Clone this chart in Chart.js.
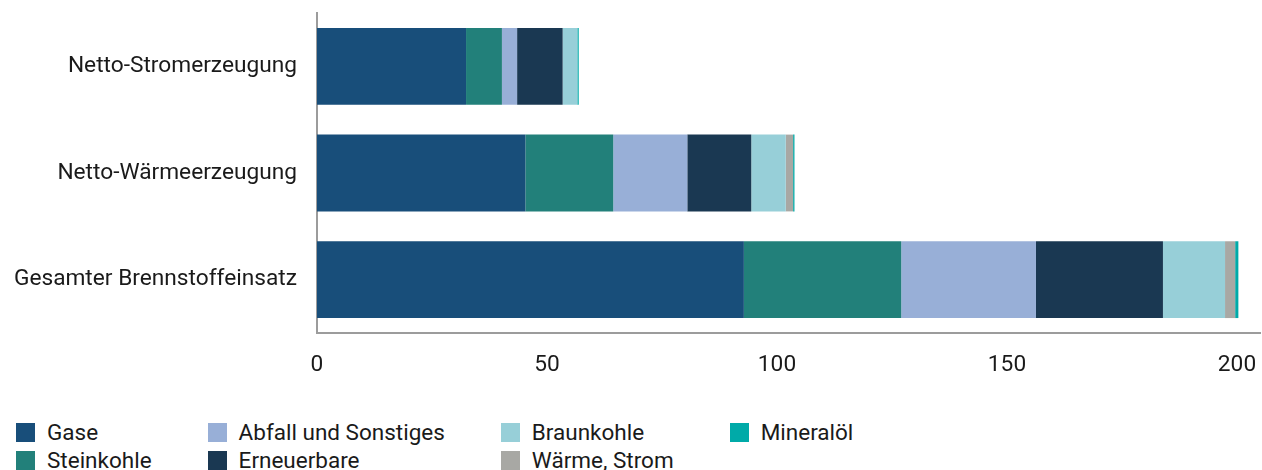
<!DOCTYPE html>
<html lang="de">
<head>
<meta charset="utf-8">
<script src="https://cdn.jsdelivr.net/npm/chart.js@4.4.1/dist/chart.umd.min.js"></script>
<style>
    html, body { margin: 0; padding: 0; background: #fff; }
    body { width: 1262px; height: 470px; overflow: hidden; position: relative; font-family: Roboto, sans-serif; }
    #chartBox { position: absolute; left: 0; top: 0; width: 1262px; height: 390px; }
    #legend {
        position: absolute; left: 16px; top: 418px;
        display: grid; grid-template-rows: 28px 28px; grid-auto-flow: column;
        column-gap: 56px; font-size: 22.5px; color: #1a1a1a;
    }
    .item { display: flex; align-items: center; white-space: nowrap; line-height: 28px; }
    .box { width: 19px; height: 19px; margin-right: 12px; flex: none; }
</style>
</head>
<body>
<div id="chartBox"><canvas id="myChart"></canvas></div>
<div id="legend"></div>
<script>
// Kategorien und Werte (Mrd. kWh)
const categories = ['Netto-Stromerzeugung', 'Netto-Wärmeerzeugung', 'Gesamter Brennstoffeinsatz'];
const seriesNames = ['Gase', 'Steinkohle', 'Abfall und Sonstiges', 'Erneuerbare', 'Braunkohle', 'Wärme, Strom', 'Mineralöl'];
const seriesColors = ['#184e7a', '#22807a', '#98afd7', '#1a3852', '#97cfd8', '#a8a8a4', '#00aaa8'];

const gase = [32.4, 45.3, 92.8];
const steinkohle = [7.8, 19.1, 34.2];
const abfall = [3.3, 16.1, 29.3];
const erneuerbare = [9.9, 13.9, 27.6];
const braunkohle = [3.2, 7.5, 13.5];
const waermeStrom = [0, 1.6, 2.2];
const mineraloel = [0.3, 0.3, 0.7];

const xTicks = [0, 50, 100, 150, 200];

const seriesValues = [gase, steinkohle, abfall, erneuerbare, braunkohle, waermeStrom, mineraloel];

const datasets = seriesNames.map((name, i) => ({
    label: name,
    data: seriesValues[i],
    backgroundColor: seriesColors[i],
    borderWidth: 0
}));

const tickFont = { family: 'Roboto', size: 22.7 };

const config = {
    type: 'bar',
    data: { labels: categories, datasets: datasets },
    options: {
        indexAxis: 'y',
        responsive: true,
        maintainAspectRatio: false,
        animation: false,
        layout: { padding: { top: 13, right: 2, left: 0, bottom: 0 } },
        plugins: {
            legend: { display: false },
            tooltip: { enabled: false }
        },
        scales: {
            x: {
                stacked: true,
                min: 0,
                max: 205,
                grid: { display: false, drawTicks: false },
                border: { display: true, color: '#9c9c9c', width: 2 },
                ticks: {
                    stepSize: 50,
                    padding: 19,
                    color: '#1a1a1a',
                    font: tickFont
                },
                afterBuildTicks: scale => {
                    scale.ticks = xTicks.map(v => ({ value: v }));
                },
                afterFit: scale => {
                    scale.height = 57;
                    scale.paddingLeft = 0;
                    scale.paddingRight = 0;
                }
            },
            y: {
                stacked: true,
                grid: { display: false, drawTicks: false },
                border: { display: true, color: '#9c9c9c', width: 2 },
                ticks: {
                    padding: 20,
                    color: '#1a1a1a',
                    font: tickFont
                },
                afterFit: scale => {
                    scale.width = 317;
                    scale.paddingTop = 0;
                    scale.paddingBottom = 0;
                }
            }
        }
    }
};

new Chart(document.getElementById('myChart'), config);

// Legende spaltenweise, 2 Zeilen
const legend = document.getElementById('legend');
seriesNames.forEach((name, i) => {
    const item = document.createElement('div');
    item.className = 'item';
    const box = document.createElement('span');
    box.className = 'box';
    box.style.background = seriesColors[i];
    const text = document.createElement('span');
    text.textContent = name;
    item.appendChild(box);
    item.appendChild(text);
    legend.appendChild(item);
});
</script>
</body>
</html>
